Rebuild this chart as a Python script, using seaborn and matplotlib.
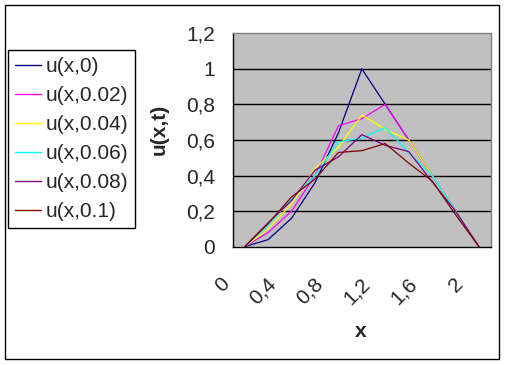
import numpy as np
import pandas as pd
import matplotlib
matplotlib.use('Agg')
import matplotlib.pyplot as plt
import seaborn as sns
from matplotlib.patches import Rectangle

# values
x = [0, 0.2, 0.4, 0.6, 0.8, 1.0, 1.2, 1.4, 1.6, 1.8, 2.0]
u_t0 = [0, 0.04, 0.16, 0.36, 0.64, 1.0, 0.8, 0.6, 0.4, 0.2, 0]
u_t002 = [0, 0.08, 0.2, 0.4, 0.68, 0.72, 0.8, 0.6, 0.4, 0.2, 0]
u_t004 = [0, 0.1, 0.24, 0.44, 0.56, 0.74, 0.66, 0.6, 0.4, 0.2, 0]
u_t006 = [0, 0.12, 0.27, 0.4, 0.59, 0.61, 0.67, 0.53, 0.4, 0.2, 0]
u_t008 = [0, 0.135, 0.26, 0.43, 0.505, 0.63, 0.57, 0.535, 0.365, 0.2, 0]
u_t01 = [0, 0.13, 0.28, 0.38, 0.53, 0.54, 0.58, 0.47, 0.37, 0.18, 0]

names = ['u(x,0)', 'u(x,0.02)', 'u(x,0.04)', 'u(x,0.06)', 'u(x,0.08)', 'u(x,0.1)']
colors = ['#000080', '#FF00FF', '#FFFF00', '#00FFFF', '#800080', '#800000']
ytick_vals = [0, 0.2, 0.4, 0.6, 0.8, 1.0, 1.2]
ytick_text = ['0', '0,2', '0,4', '0,6', '0,8', '1', '1,2']
xtick_text = ['0', '0,4', '0,8', '1,2', '1,6', '2']

series = [u_t0, u_t002, u_t004, u_t006, u_t008, u_t01]
rows = []
for name, vals in zip(names, series):
    for i, v in enumerate(vals):
        rows.append({'cat': i, 'x': x[i], 'u': v, 'series': name})
df = pd.DataFrame(rows)

sns.set_style('white')
plt.rcParams['font.family'] = ['Liberation Sans', 'DejaVu Sans']
fs = 15

fig = plt.figure(figsize=(5.06, 3.65), dpi=100)
ax = fig.add_axes([233 / 506, 1 - 246.7 / 365, 257.7 / 506, 213.4 / 365])
ax.set_facecolor('#C0C0C0')

# horizontal grid lines (Excel style)
for g in ytick_vals[1:-1]:
    ax.axhline(g, color='black', lw=1, zorder=1)

sns.lineplot(data=df, x='cat', y='u', hue='series', palette=colors,
             linewidth=0.9, ax=ax, zorder=2)

ax.set_xlim(-0.5, len(x) - 0.5)
ax.set_ylim(0, 1.2)
ax.set_xlabel('')
ax.set_ylabel('')

# category axis: ticks between categories, every second one labelled
edges = np.arange(-0.5, len(x), 1)
lab = []
k = 0
for i in range(len(edges)):
    if i % 2 == 0 and k < len(xtick_text):
        lab.append(xtick_text[k])
        k += 1
    else:
        lab.append('')
ax.set_xticks(edges, labels=lab)
ax.tick_params(axis='x', direction='out', length=6, width=1, color='black', pad=14, labelsize=fs)
for t in ax.get_xticklabels():
    t.set_rotation(45)
    t.set_ha('right')
    t.set_va('top')

ax.set_yticks(ytick_vals, labels=ytick_text)
ax.tick_params(axis='y', direction='out', length=6, width=1, color='black', pad=7, labelsize=fs)

for s in ['left', 'bottom']:
    ax.spines[s].set_color('black')
    ax.spines[s].set_linewidth(1)
for s in ['top', 'right']:
    ax.spines[s].set_color('#808080')
    ax.spines[s].set_linewidth(1)

fig.text(159 / 506, 1 - 129 / 365, 'u(x,t)', rotation=90, fontsize=fs,
         fontweight='bold', ha='center', va='center')
fig.text(361 / 506, 1 - 337 / 365, 'x', fontsize=fs, fontweight='bold',
         ha='center', va='baseline')

handles, labels = ax.get_legend_handles_labels()
leg = ax.legend(handles, labels, loc='upper left',
                bbox_to_anchor=(8.3 / 506, 1 - 50 / 365), bbox_transform=fig.transFigure,
                frameon=True, fancybox=False, edgecolor='black', framealpha=1,
                borderaxespad=0, fontsize=fs, handlelength=1.25, handletextpad=0.2,
                labelspacing=0.48, borderpad=0.33)
leg.get_frame().set_linewidth(1)
for h in leg.get_lines():
    h.set_linewidth(1)

# outer chart border
fig.patches.append(Rectangle((5 / 506, 6 / 365), 494 / 506, 354 / 365,
                             transform=fig.transFigure, fill=False,
                             edgecolor='black', lw=1))

fig.savefig('out.png', dpi=100)
